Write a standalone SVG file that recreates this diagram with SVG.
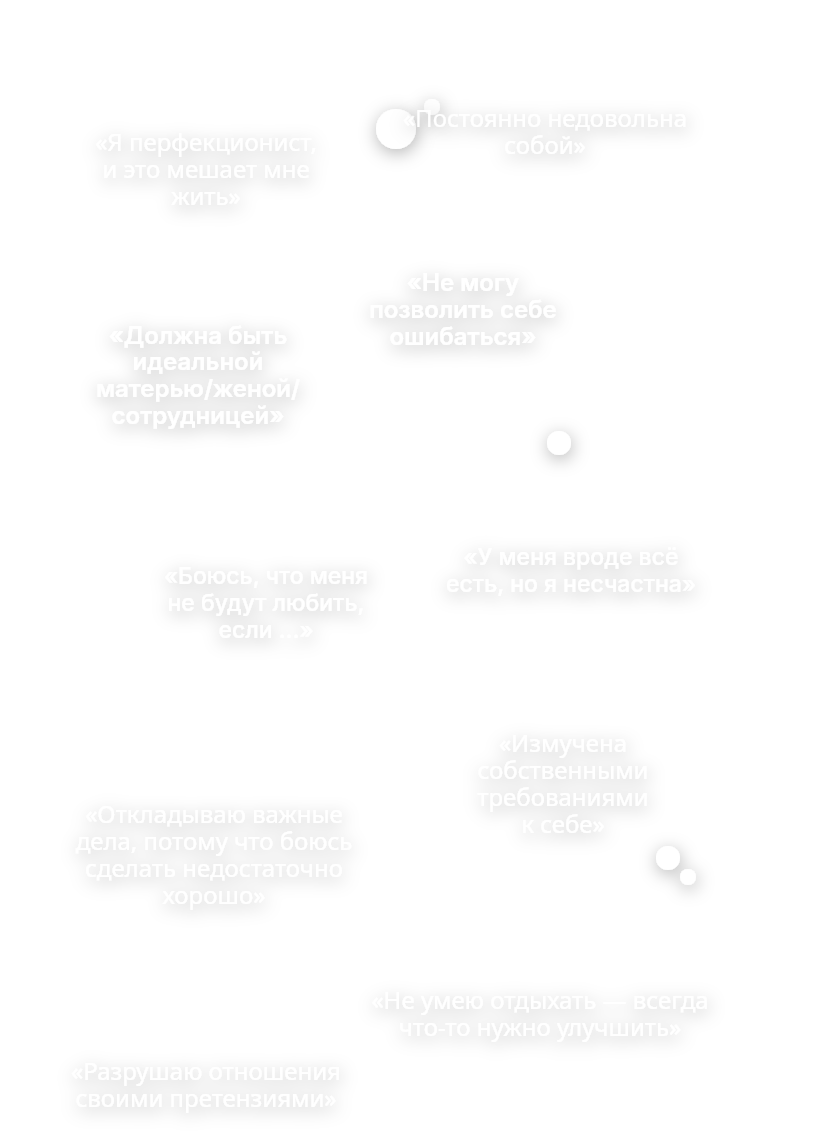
<svg xmlns="http://www.w3.org/2000/svg" width="831" height="1145" viewBox="0 0 831 1145">
<defs>
<filter id="sh" x="-40%" y="-60%" width="180%" height="220%">
<feGaussianBlur in="SourceAlpha" stdDeviation="9" result="b"/>
<feOffset in="b" dx="1" dy="4" result="o"/>
<feFlood flood-color="#000" flood-opacity="0.3"/>
<feComposite in2="o" operator="in" result="s"/>
<feMerge><feMergeNode in="s"/><feMergeNode in="SourceGraphic"/></feMerge>
</filter>
<style>
text{fill:#fff;text-anchor:middle}
.a{font-family:"Noto Sans","Open Sans",sans-serif;font-weight:400;font-size:24px}
.m{font-family:Inter,"DejaVu Sans",sans-serif;font-weight:600;font-size:24px}
.m5{font-family:Inter,"DejaVu Sans",sans-serif;font-weight:500;font-size:23px}
circle{fill:#fff}
</style>
</defs>
<rect width="831" height="1145" fill="#fff"/>
<g id="dots" filter="url(#sh)">
<circle cx="396" cy="129" r="20"/>
<circle cx="432" cy="107" r="8"/>
<circle cx="559" cy="443" r="12"/>
<circle cx="668" cy="858" r="12"/>
<circle cx="688" cy="877" r="8"/>
</g>
<g id="n1" filter="url(#sh)"><text class="a"><tspan x="206" y="151">«Я перфекционист,</tspan><tspan x="206" y="178">и это мешает мне</tspan><tspan x="206" y="205">жить»</tspan></text></g>
<g id="n2" filter="url(#sh)"><text class="a"><tspan x="545" y="127">«Постоянно недовольна</tspan><tspan x="545" y="154">собой»</tspan></text></g>
<g id="n3" filter="url(#sh)"><text class="m"><tspan x="463" y="291">«Не могу</tspan><tspan x="463" y="318">позволить себе</tspan><tspan x="463" y="345">ошибаться»</tspan></text></g>
<g id="n4" filter="url(#sh)"><text class="m"><tspan x="198" y="344">«Должна быть</tspan><tspan x="198" y="370">идеальной</tspan><tspan x="198" y="397">матерью/женой/</tspan><tspan x="198" y="424">сотрудницей»</tspan></text></g>
<g id="n5" filter="url(#sh)"><text class="m5"><tspan x="266" y="584">«Боюсь, что меня</tspan><tspan x="266" y="611">не будут любить,</tspan><tspan x="266" y="638">если ...»</tspan></text></g>
<g id="n6" filter="url(#sh)"><text class="m5"><tspan x="571" y="565">«У меня вроде всё</tspan><tspan x="571" y="592">есть, но я несчастна»</tspan></text></g>
<g id="n7" filter="url(#sh)"><text class="a"><tspan x="563" y="752">«Измучена</tspan><tspan x="563" y="779">собственными</tspan><tspan x="563" y="806">требованиями</tspan><tspan x="563" y="833">к себе»</tspan></text></g>
<g id="n8" filter="url(#sh)"><text class="a"><tspan x="214" y="823">«Откладываю важные</tspan><tspan x="214" y="850">дела, потому что боюсь</tspan><tspan x="214" y="877">сделать недостаточно</tspan><tspan x="214" y="904">хорошо»</tspan></text></g>
<g id="n9" filter="url(#sh)"><text class="a"><tspan x="540" y="1009">«Не умею отдыхать — всегда</tspan><tspan x="540" y="1036">что-то нужно улучшить»</tspan></text></g>
<g id="n10" filter="url(#sh)"><text class="a"><tspan x="206" y="1080">«Разрушаю отношения</tspan><tspan x="206" y="1107">своими претензиями»</tspan></text></g>
<g id="connectors"/>
</svg>
